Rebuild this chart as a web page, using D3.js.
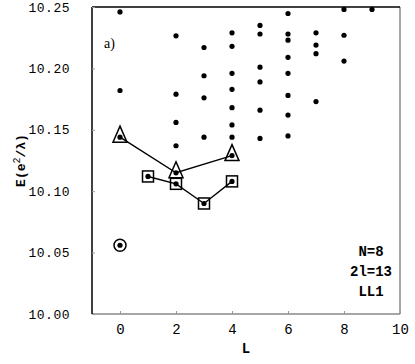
<!DOCTYPE html>
<html><head><meta charset="utf-8">
<script src="https://cdn.jsdelivr.net/npm/d3@7"></script>
<style>body{margin:0;background:#fff}</style>
</head><body><svg id="c" width="415" height="364"></svg>
<script>
const Lvals = [0,1,2,3,4,5,6,7,8,9];
const energies = [
  [10.246, 10.182, 10.144, 10.056],
  [10.112],
  [10.2265, 10.179, 10.156, 10.137, 10.115, 10.106],
  [10.217, 10.194, 10.176, 10.144, 10.090],
  [10.229, 10.218, 10.196, 10.183, 10.168, 10.154, 10.144, 10.129, 10.108],
  [10.235, 10.228, 10.201, 10.189, 10.166, 10.143],
  [10.2447, 10.228, 10.223, 10.209, 10.196, 10.178, 10.162, 10.145],
  [10.229, 10.219, 10.212, 10.173],
  [10.248, 10.227, 10.206],
  [10.248]
];
const triL = [0,2,4], triE = [10.144, 10.115, 10.129];
const sqL = [1,2,3,4], sqE = [10.112, 10.106, 10.090, 10.108];
const circL = [0], circE = [10.056];
const xTicks = [0,2,4,6,8,10];
const yTicks = [10.00,10.05,10.10,10.15,10.20,10.25];
const infoLines = ["N=8","2l=13","LL1"];

const svg = d3.select("#c");
const m = {l:92, r:400, t:7, b:314};
const x = d3.scaleLinear().domain([-1,10]).range([m.l,m.r]);
const y = d3.scaleLinear().domain([10.0,10.25]).range([m.b,m.t]);
const font = "'Liberation Mono', 'Courier New', monospace";

// frame
svg.append("line").attr("x1",m.l).attr("x2",m.r).attr("y1",m.b).attr("y2",m.b).attr("stroke","#888").attr("stroke-width",1.5);
svg.append("line").attr("x1",m.r).attr("x2",m.r).attr("y1",m.t).attr("y2",m.b).attr("stroke","#888").attr("stroke-width",1.5);
svg.append("line").attr("x1",m.l).attr("x2",m.r).attr("y1",m.t).attr("y2",m.t).attr("stroke","#000").attr("stroke-width",1.5);
svg.append("line").attr("x1",m.l).attr("x2",m.l).attr("y1",m.t).attr("y2",m.b).attr("stroke","#000").attr("stroke-width",1.5);

// axes
const xAxis = d3.axisBottom(x).tickValues(xTicks).tickSize(-3).tickPadding(10).tickFormat(d3.format("d"));
const gx = svg.append("g").attr("transform",`translate(0,${m.b})`).call(xAxis);
gx.select(".domain").remove();
gx.selectAll(".tick line").attr("stroke","#999");
gx.selectAll("text").attr("font-family",font).attr("font-size",14).attr("fill","#000");

const yAxis = d3.axisLeft(y).tickValues(yTicks).tickSize(-3).tickPadding(22).tickFormat(d3.format(".2f"));
const gy = svg.append("g").attr("transform",`translate(${m.l},0)`).call(yAxis);
gy.select(".domain").remove();
gy.selectAll(".tick line").attr("stroke","#999");
gy.selectAll("text").attr("font-family",font).attr("font-size",13).attr("fill","#000").attr("letter-spacing","0.5px");

// labels
svg.append("text").attr("x",(m.l+m.r)/2).attr("y",353).attr("text-anchor","middle")
  .attr("font-family",font).attr("font-size",14).attr("font-weight","bold").text("L");
const yl = svg.append("text").attr("transform",`translate(25,${(m.t+m.b)/2}) rotate(-90)`)
  .attr("text-anchor","middle").attr("font-family",font).attr("font-size",13).attr("font-weight","bold");
yl.append("tspan").text("E(e");
yl.append("tspan").attr("dy",-5).attr("font-size",10).attr("font-weight","normal").text("2");
yl.append("tspan").attr("dy",5).text("/λ)");

svg.append("text").attr("x",104).attr("y",48).attr("font-family","'Liberation Serif', serif").attr("font-size",14).text("a)");
infoLines.forEach((t,i)=>{
  svg.append("text").attr("x",371).attr("y",256+i*20).attr("text-anchor","middle")
    .attr("font-family",font).attr("font-size",14).attr("font-weight","bold").text(t);
});

// lines
const line = d3.line().x(d=>x(d[0])).y(d=>y(d[1]));
svg.append("path").datum(triL.map((l,i)=>[l,triE[i]])).attr("d",line).attr("fill","none").attr("stroke","#000").attr("stroke-width",1.4);
svg.append("path").datum(sqL.map((l,i)=>[l,sqE[i]])).attr("d",line).attr("fill","none").attr("stroke","#000").attr("stroke-width",1.4);

// dots
const pts = [];
Lvals.forEach((l,i)=>energies[i].forEach(e=>pts.push([l,e])));
svg.append("g").selectAll("circle").data(pts).join("circle")
  .attr("cx",d=>x(d[0])).attr("cy",d=>y(d[1])).attr("r",2.6).attr("fill","#000");

// markers
svg.append("g").selectAll("path").data(triL.map((l,i)=>[l,triE[i]])).join("path")
  .attr("d",d=>{const cx=x(d[0]), cy=y(d[1]); return `M${cx},${cy-11}L${cx+7},${cy+5}L${cx-7},${cy+5}Z`;})
  .attr("fill","none").attr("stroke","#000").attr("stroke-width",1.5);
svg.append("g").selectAll("rect").data(sqL.map((l,i)=>[l,sqE[i]])).join("rect")
  .attr("x",d=>x(d[0])-5.5).attr("y",d=>y(d[1])-5.5).attr("width",11).attr("height",11)
  .attr("fill","none").attr("stroke","#000").attr("stroke-width",1.5);
svg.append("g").selectAll("circle").data(circL.map((l,i)=>[l,circE[i]])).join("circle")
  .attr("cx",d=>x(d[0])).attr("cy",d=>y(d[1])).attr("r",6).attr("fill","none").attr("stroke","#000").attr("stroke-width",1.5);
</script></body></html>
